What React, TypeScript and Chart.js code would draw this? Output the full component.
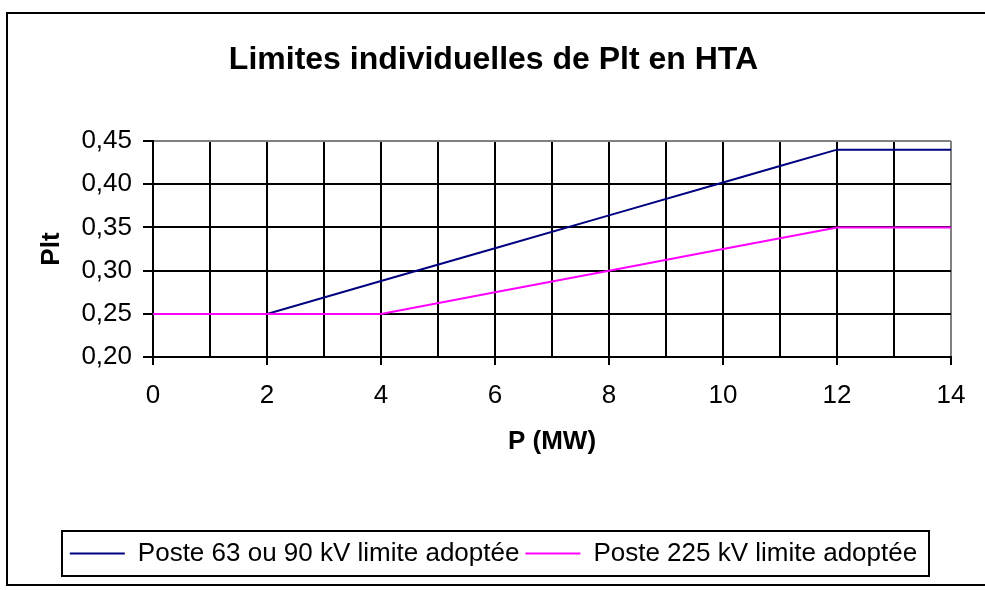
import React, { useEffect, useRef } from 'react';
import { Chart, registerables } from 'chart.js';

Chart.register(...registerables);

// ---- data ----
const TITLE = 'Limites individuelles de Plt en HTA';
const X_TITLE = 'P (MW)';
const Y_TITLE = 'Plt';
const SERIES_LABELS = ['Poste 63 ou 90 kV limite adoptée', 'Poste 225 kV limite adoptée'];

const powerBlue = [0, 2, 4, 6, 8, 10, 11, 12, 14];
const pltBlue = [0.25, 0.25, 0.288, 0.326, 0.364, 0.402, 0.421, 0.44, 0.44];

const powerMagenta = [0, 4, 6, 8, 10, 12, 14];
const pltMagenta = [0.25, 0.25, 0.275, 0.3, 0.325, 0.35, 0.35];

const X_MIN = 0;
const X_MAX = 14;
const X_STEP = 1;
const X_LABEL_EVERY = 2;
const Y_MIN = 0.2;
const Y_MAX = 0.45;
const Y_STEP = 0.05;

const COLORS = ['#000080', '#FF00FF'];
const FONT = '"Liberation Sans", Arial, Helvetica, sans-serif';

const framePlugin = {
  id: 'framePlugin',
  beforeDraw(chart: any) {
    const ctx = chart.ctx;
    ctx.save();
    ctx.fillStyle = '#ffffff';
    ctx.fillRect(0, 0, chart.width, chart.height);
    ctx.strokeStyle = '#000';
    ctx.lineWidth = 2;
    ctx.strokeRect(7, 13, chart.width + 20, 572);
    ctx.restore();
  },
  afterDraw(chart: any) {
    const hb = chart.legend && chart.legend.legendHitBoxes;
    if (!hb || !hb.length) return;
    const first = hb[0];
    const last = hb[hb.length - 1];
    const cy = first.top + first.height / 2;
    const ctx = chart.ctx;
    ctx.save();
    ctx.strokeStyle = '#000';
    ctx.lineWidth = 2;
    const left = Math.round(first.left - 8);
    const right = Math.round(last.left + last.width + 12);
    ctx.strokeRect(left, Math.round(cy - 22.5), right - left, 45);
    ctx.restore();
  },
};

const isClose = (a: number, b: number) => Math.abs(a - b) < 1e-9;

export default function App() {
  const canvasRef = useRef<HTMLCanvasElement | null>(null);

  useEffect(() => {
    if (!canvasRef.current) return;
    Chart.defaults.font.family = FONT;
    Chart.defaults.color = '#000';

    const chart = new Chart(canvasRef.current, {
      type: 'line',
      data: {
        datasets: [
          {
            label: SERIES_LABELS[0],
            data: powerBlue.map((x, i) => ({ x, y: pltBlue[i] })),
            borderColor: COLORS[0],
            backgroundColor: COLORS[0],
            borderWidth: 2,
            pointRadius: 0,
            tension: 0,
            order: 1,
          },
          {
            label: SERIES_LABELS[1],
            data: powerMagenta.map((x, i) => ({ x, y: pltMagenta[i] })),
            borderColor: COLORS[1],
            backgroundColor: COLORS[1],
            borderWidth: 2,
            pointRadius: 0,
            tension: 0,
            order: 0,
          },
        ],
      },
      plugins: [framePlugin],
      options: {
        animation: false,
        responsive: false,
        devicePixelRatio: 1,
        layout: { padding: { left: 36, right: 34, top: 0, bottom: 13.5 } },
        plugins: {
          title: {
            display: true,
            text: TITLE,
            color: '#000',
            font: { size: 32, weight: 'bold', family: FONT },
            padding: { top: 41, bottom: 61.6 },
          },
          legend: {
            display: true,
            position: 'bottom',
            labels: {
              usePointStyle: true,
              pointStyle: 'line',
              pointStyleWidth: 55,
              padding: 6,
              color: '#000',
              font: { size: 26, family: FONT },
              sort: (a: any, b: any) => a.datasetIndex - b.datasetIndex,
            },
          },
          tooltip: { enabled: false },
        },
        scales: {
          x: {
            type: 'linear',
            min: X_MIN,
            max: X_MAX,
            ticks: {
              stepSize: X_STEP,
              autoSkip: false,
              maxRotation: 0,
              padding: 15,
              color: '#000',
              font: { size: 26, family: FONT },
              callback: (v: any) => (Number(v) % X_LABEL_EVERY === 0 ? String(v) : ''),
            },
            grid: {
              color: (c: any) => (c.tick && isClose(c.tick.value, X_MAX) ? '#808080' : '#000'),
              lineWidth: 2,
              tickLength: 8,
              tickWidth: 2,
              tickColor: (c: any) =>
                c.tick && Number(c.tick.value) % X_LABEL_EVERY === 0 ? '#000' : 'rgba(0,0,0,0)',
            },
            border: { color: '#000', width: 2 },
            title: {
              display: true,
              text: X_TITLE,
              color: '#000',
              font: { size: 26, weight: 'bold', family: FONT },
              padding: { top: 0, bottom: 77 },
            },
          },
          y: {
            type: 'linear',
            min: Y_MIN,
            max: Y_MAX,
            afterFit: (s: any) => {
              s.width = 117;
            },
            ticks: {
              stepSize: Y_STEP,
              padding: 11,
              color: '#000',
              font: { size: 26, family: FONT },
              callback: (v: any) => Number(v).toFixed(2).replace('.', ','),
            },
            grid: {
              color: (c: any) => (c.tick && isClose(c.tick.value, Y_MAX) ? '#808080' : '#000'),
              lineWidth: 2,
              tickLength: 10,
              tickWidth: 2,
              tickColor: '#000',
            },
            border: { color: '#000', width: 2 },
            title: {
              display: true,
              text: Y_TITLE,
              color: '#000',
              font: { size: 26, weight: 'bold', family: FONT },
              padding: { top: 0.4, bottom: 0 },
            },
          },
        },
      } as any,
    });

    return () => chart.destroy();
  }, []);

  return (
    <div style={{ position: 'fixed', left: 0, top: 0, width: 985, height: 590, background: '#fff' }}>
      <canvas ref={canvasRef} width={985} height={590} style={{ display: 'block' }} />
    </div>
  );
}
